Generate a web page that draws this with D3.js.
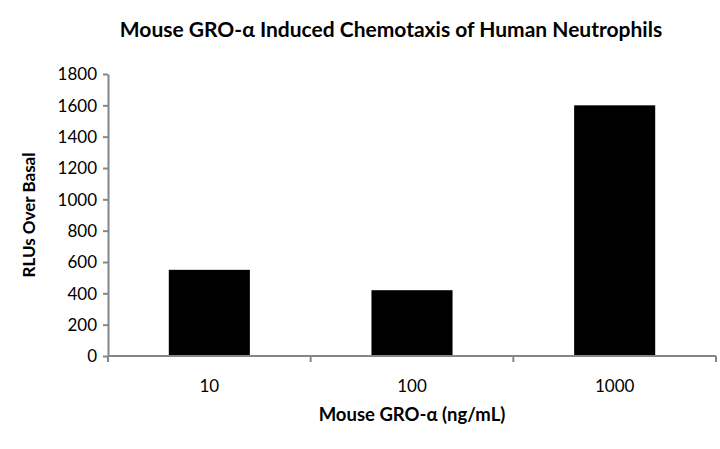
<!DOCTYPE html>
<html lang="en">
<head>
  <meta charset="UTF-8" />
  <title>Mouse GRO-α Induced Chemotaxis</title>
  <script src="https://d3js.org/d3.v7.min.js"></script>
  <style>
    body { margin: 0; background: #fff; font-family: Lato, "Open Sans", sans-serif; }
    .axis path, .axis line { stroke: #868686; stroke-width: 2px; }
    .axis text { font-size: 17px; fill: #000; font-family: Lato, sans-serif; }
  </style>
</head>
<body>
  <svg width="720" height="449"></svg>
  <script>
    // data
    const doses = ["10", "100", "1000"];
    const rlus = [550, 420, 1600];
    const yTicks = [0, 200, 400, 600, 800, 1000, 1200, 1400, 1600, 1800];

    const svg = d3.select("svg");
    const margin = { top: 74, right: 4, bottom: 93, left: 108 };
    const width = +svg.attr("width") - margin.left - margin.right;
    const height = +svg.attr("height") - margin.top - margin.bottom;
    const chart = svg.append("g")
      .attr("transform", `translate(${margin.left},${margin.top})`);

    const x = d3.scaleBand()
      .domain(doses)
      .range([0, width])
      .paddingInner(0.6)
      .paddingOuter(0.3);
    const y = d3.scaleLinear()
      .domain([0, 1800])
      .range([height, 0]);

    // y axis
    chart.append("g")
      .attr("class", "axis")
      .call(d3.axisLeft(y).tickValues(yTicks).tickFormat(d3.format("d"))
        .tickSize(5).tickPadding(6).tickSizeOuter(0))
      .selectAll("text").attr("dy", "0.35em");

    // bars
    chart.selectAll(".bar")
      .data(rlus)
      .enter()
      .append("rect")
      .attr("class", "bar")
      .attr("x", (d, i) => x(doses[i]))
      .attr("y", d => y(d))
      .attr("width", x.bandwidth())
      .attr("height", d => height - y(d))
      .attr("fill", "#000");

    // x axis: ticks between categories, labels centred
    const bounds = d3.scaleLinear().domain([0, doses.length]).range([0, width]);
    const xg = chart.append("g")
      .attr("class", "axis")
      .attr("transform", `translate(0,${height})`);
    xg.append("line")
      .attr("x1", 0).attr("x2", width)
      .attr("y1", 0).attr("y2", 0);
    xg.selectAll(".tick-mark")
      .data(d3.range(doses.length + 1))
      .enter()
      .append("line")
      .attr("x1", d => bounds(d)).attr("x2", d => bounds(d))
      .attr("y1", 0).attr("y2", 6);
    xg.selectAll(".lbl")
      .data(doses)
      .enter()
      .append("text")
      .attr("x", d => x(d) + x.bandwidth() / 2)
      .attr("y", 36)
      .attr("text-anchor", "middle")
      .text(d => d);

    // titles
    svg.append("text")
      .attr("x", 391).attr("y", 37)
      .attr("text-anchor", "middle")
      .style("font-size", "21px")
      .style("font-weight", "bold")
      .text("Mouse GRO-α Induced Chemotaxis of Human Neutrophils");

    svg.append("text")
      .attr("x", 412).attr("y", 421)
      .attr("text-anchor", "middle")
      .style("font-size", "18.5px")
      .style("font-weight", "bold")
      .text("Mouse GRO-α (ng/mL)");

    svg.append("text")
      .attr("transform", `translate(35,${margin.top + height / 2}) rotate(-90)`)
      .attr("text-anchor", "middle")
      .style("font-size", "17px")
      .style("font-weight", "bold")
      .text("RLUs Over Basal");
  </script>
</body>
</html>
